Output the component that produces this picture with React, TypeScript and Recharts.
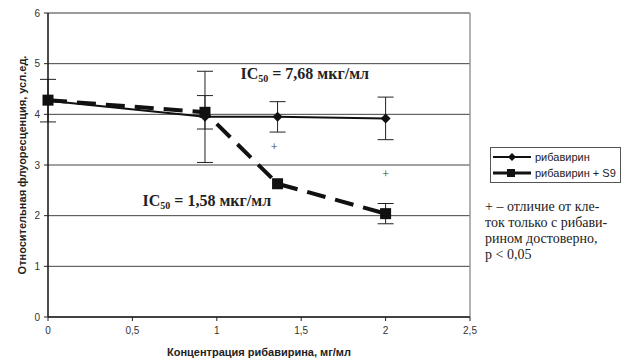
import { ComposedChart, Line, Scatter, XAxis, YAxis, CartesianGrid, ReferenceLine, ErrorBar } from 'recharts'

// concentrations, mg/ml
const xRib = [0, 0.93, 1.36, 2]
const yRib = [4.27, 3.95, 3.95, 3.92]
const errRib = [0.42, 0.9, 0.3, 0.42]

const xS9 = [0, 0.93, 1.36, 2]
const yS9 = [4.28, 4.04, 2.63, 2.04]
const errS9 = [0, 0.33, 0, 0.2]

// "+" significance marks
const plusX = [1.34, 2]
const plusY = [3.36, 2.83]

// IC50 annotations
const icX = [1.14, 0.56]
const icY = [4.69, 2.2]
const icText = ['7,68', '1,58']

const xTicks = [0, 0.5, 1, 1.5, 2, 2.5]
const yTicks = [0, 1, 2, 3, 4, 5, 6]

const seriesNames = ['рибавирин', 'рибавирин + S9']
const noteLines = ['+ – отличие от кле-', 'ток только с рибави-', 'рином достоверно,', 'p < 0,05']

const ribData = xRib.map((x, i) => ({ x, y: yRib[i], err: errRib[i] }))
const s9Data = xS9.map((x, i) => ({ x, y: yS9[i], err: errS9[i] }))
const plusData = plusX.map((x, i) => ({ x, y: plusY[i] }))
const icData = icX.map((x, i) => ({ x, y: icY[i], v: icText[i] }))

const SANS = '"Liberation Sans", Arial, sans-serif'
const SERIF = '"Liberation Serif", "Times New Roman", serif'

function Diamond(props: any) {
  const { cx, cy } = props
  if (cx == null || cy == null) return null
  return <path d={`M${cx},${cy - 5}L${cx + 5},${cy}L${cx},${cy + 5}L${cx - 5},${cy}Z`} fill="#111" />
}

function Square(props: any) {
  const { cx, cy } = props
  if (cx == null || cy == null) return null
  return <rect x={cx - 5.5} y={cy - 5.5} width={11} height={11} fill="#111" />
}

function PlusMark(props: any) {
  const { cx, cy } = props
  return (
    <text x={cx} y={cy} textAnchor="middle" dominantBaseline="central" fontFamily={SERIF} fontSize={12} fill="#333">
      +
    </text>
  )
}

function IcLabel(props: any) {
  const { cx, cy, payload } = props
  return (
    <text x={cx} y={cy} fontFamily={SERIF} fontWeight="bold" fontSize={16} fill="#222">
      IC<tspan fontSize={10} dy={3}>50</tspan>
      <tspan dy={-3}>{` = ${payload.v} мкг/мл`}</tspan>
    </text>
  )
}

function LegendBox() {
  const row = (label: string, square: boolean) => (
    <div key={label} style={{ display: 'flex', alignItems: 'center', height: 16 }}>
      <svg width={42} height={12}>
        <line x1={2} y1={6} x2={40} y2={6} stroke="#111" strokeWidth={square ? 3 : 2} />
        {square ? <rect x={16} y={2} width={8} height={8} fill="#111" /> : <path d="M21,2L25,6L21,10L17,6Z" fill="#111" />}
      </svg>
      <span style={{ marginLeft: 2 }}>{label}</span>
    </div>
  )
  return (
    <div style={{ position: 'absolute', left: 490, top: 147, width: 129, border: '1px solid #555', padding: '1px 0', fontFamily: SANS, fontSize: 11, color: '#222', lineHeight: '16px' }}>
      {row(seriesNames[0], false)}
      {row(seriesNames[1], true)}
    </div>
  )
}

export default function App() {
  return (
    <div style={{ position: 'absolute', left: 0, top: 0, width: 631, height: 360, background: '#fff' }}>
      <ComposedChart width={631} height={360} margin={{ top: 13, right: 161, left: 0, bottom: 0 }}>
        <CartesianGrid vertical={false} stroke="#444" strokeWidth={1} />
        <XAxis
          type="number"
          dataKey="x"
          domain={[0, 2.5]}
          ticks={xTicks}
          height={43}
          tickSize={4}
          tickMargin={6}
          tickFormatter={(v: number) => String(v).replace('.', ',')}
          tick={{ fontFamily: SANS, fontSize: 10, fill: '#333' }}
          axisLine={{ stroke: '#222', strokeWidth: 1.5 }}
          tickLine={{ stroke: '#222' }}
          label={{
            content: ({ viewBox }: any) => (
              <text x={viewBox.x + viewBox.width / 2} y={viewBox.y + 39} textAnchor="middle" fontFamily={SANS} fontWeight="bold" fontSize={11} fill="#222">
                Концентрация рибавирина, мг/мл
              </text>
            ),
          }}
        />
        <YAxis
          type="number"
          domain={[0, 6]}
          ticks={yTicks}
          width={48}
          tickSize={4}
          tickMargin={4}
          tick={{ fontFamily: SANS, fontSize: 10, fill: '#333' }}
          axisLine={{ stroke: '#111', strokeWidth: 1.5 }}
          tickLine={{ stroke: '#222' }}
          label={{
            content: ({ viewBox }: any) => {
              const cx = viewBox.x + 22
              const cy = viewBox.y + viewBox.height / 2
              return (
                <text x={cx} y={cy} transform={`rotate(-90 ${cx} ${cy})`} textAnchor="middle" dominantBaseline="central" fontFamily={SANS} fontWeight="bold" fontSize={11} fill="#222">
                  Относительная флуоресценция, усл.ед.
                </text>
              )
            },
          }}
        />
        <ReferenceLine y={6} stroke="#999" strokeWidth={1.5} />
        <ReferenceLine x={2.5} stroke="#999" strokeWidth={1.5} />
        <Line
          data={ribData}
          dataKey="y"
          name={seriesNames[0]}
          type="linear"
          stroke="#111"
          strokeWidth={2}
          dot={<Diamond />}
          activeDot={false}
          isAnimationActive={false}
        >
          <ErrorBar dataKey="err" direction="y" width={8} stroke="#222" strokeWidth={1} />
        </Line>
        <Line
          data={s9Data}
          dataKey="y"
          name={seriesNames[1]}
          type="linear"
          stroke="#111"
          strokeWidth={4}
          strokeDasharray="19 10"
          dot={<Square />}
          activeDot={false}
          isAnimationActive={false}
        >
          <ErrorBar dataKey="err" direction="y" width={8} stroke="#222" strokeWidth={1} />
        </Line>
        <Scatter data={plusData} dataKey="y" fill="#333" shape={<PlusMark />} isAnimationActive={false} />
        <Scatter data={icData} dataKey="y" fill="#222" shape={<IcLabel />} isAnimationActive={false} />
      </ComposedChart>
      <LegendBox />
      <div style={{ position: 'absolute', left: 485, top: 199, fontFamily: SERIF, fontSize: 14, lineHeight: '16px', color: '#222' }}>
        {noteLines.map((l) => (
          <div key={l}>{l}</div>
        ))}
      </div>
    </div>
  )
}
